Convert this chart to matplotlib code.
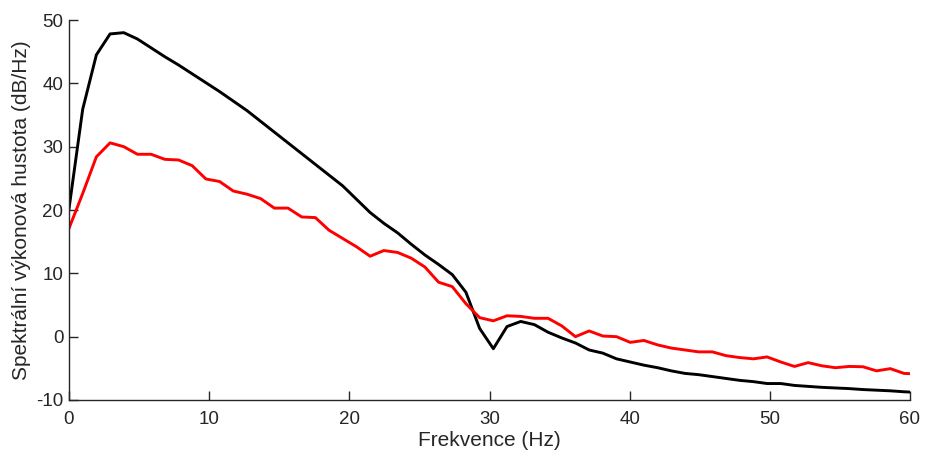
import numpy as np
import matplotlib
matplotlib.use('Agg')
import matplotlib.pyplot as plt

# frekvencni osa - krok fs/N = 250/256 Hz
df = 250 / 256
freq = np.arange(63) * df

# vykonova spektralni hustota (dB/Hz)
psd_black = [20.2, 35.9, 44.5, 47.8, 48.0, 47.0, 45.6, 44.2, 42.9, 41.5,
             40.1, 38.7, 37.2, 35.7, 34.0, 32.3, 30.6, 28.9, 27.2, 25.5,
             23.8, 21.7, 19.6, 17.9, 16.4, 14.6, 12.9, 11.4, 9.8, 7.0,
             1.3, -1.9, 1.6, 2.4, 1.9, 0.7, -0.2, -1.0, -2.1, -2.6,
             -3.5, -4.0, -4.5, -4.9, -5.4, -5.8, -6.0, -6.3, -6.6, -6.9,
             -7.1, -7.4, -7.4, -7.7, -7.85, -8.0, -8.1, -8.2, -8.35, -8.45,
             -8.55, -8.7, -8.8]
psd_red = [17.1, 22.6, 28.4, 30.6, 30.0, 28.8, 28.8, 28.0, 27.9, 27.0,
           24.9, 24.5, 23.0, 22.5, 21.8, 20.3, 20.3, 18.9, 18.8, 16.8,
           15.5, 14.2, 12.7, 13.6, 13.3, 12.4, 11.0, 8.6, 7.9, 5.2,
           3.0, 2.5, 3.3, 3.2, 2.9, 2.9, 1.7, 0.0, 0.9, 0.1,
           0.0, -0.9, -0.6, -1.3, -1.8, -2.1, -2.4, -2.4, -3.0, -3.3,
           -3.5, -3.2, -4.0, -4.7, -4.1, -4.6, -4.9, -4.7, -4.75, -5.4,
           -5.05, -5.8, -5.9]

xticks = [0, 10, 20, 30, 40, 50, 60]
yticks = [-10, 0, 10, 20, 30, 40, 50]

plt.rcParams['font.family'] = ['Liberation Sans', 'DejaVu Sans']
plt.rcParams['axes.unicode_minus'] = False
gray = '#262626'

fig = plt.figure(figsize=(9.25, 4.58), dpi=100)
ax = fig.add_axes([69 / 925, 1 - 400 / 458, (910 - 69) / 925, 380 / 458])

ax.plot(freq, psd_black, color='black', linewidth=2.1)
ax.plot(freq, psd_red, color='#ff0000', linewidth=2.1)

ax.set_xlim(0, 60)
ax.set_ylim(-10, 50)
ax.set_xticks(xticks)
ax.set_yticks(yticks)

# jen leva a spodni osa, MATLAB styl
ax.spines['top'].set_visible(False)
ax.spines['right'].set_visible(False)
for s in ['left', 'bottom']:
    ax.spines[s].set_color(gray)
    ax.spines[s].set_linewidth(1.0)
ax.tick_params(direction='in', length=6.5, width=1.0, colors=gray,
               labelsize=13.5)
ax.tick_params(axis='x', pad=8)
ax.tick_params(axis='y', pad=4)

ax.set_xlabel('Frekvence (Hz)', fontsize=15, color=gray, labelpad=2)
ax.set_ylabel('Spektrální výkonová hustota (dB/Hz)', fontsize=15,
              color=gray, labelpad=4)

fig.savefig('out.png', dpi=100)
